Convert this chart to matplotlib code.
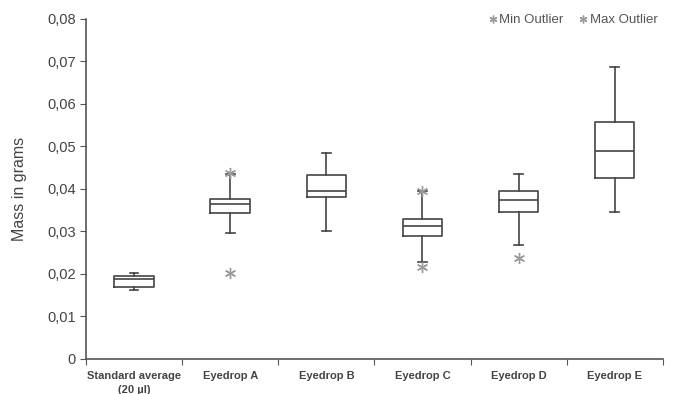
import numpy as np
import matplotlib.pyplot as plt
from matplotlib.ticker import FuncFormatter

plt.rcParams['font.family'] = ['Liberation Sans', 'DejaVu Sans']

# box plot statistics
categories = ['Standard average\n(20 \u00b5l)', 'Eyedrop A', 'Eyedrop B',
              'Eyedrop C', 'Eyedrop D', 'Eyedrop E']
whislo = [0.0162, 0.0296, 0.0300, 0.0229, 0.0268, 0.0346]
q1 = [0.0169, 0.0344, 0.0380, 0.0290, 0.0345, 0.0426]
med = [0.0188, 0.0364, 0.0396, 0.0312, 0.0374, 0.0489]
q3 = [0.0196, 0.0376, 0.0433, 0.0329, 0.0395, 0.0557]
whishi = [0.0202, 0.0435, 0.0484, 0.0396, 0.0435, 0.0686]

# outliers (category index, value)
min_out_idx = [1, 3, 4]
min_out_val = [0.0202, 0.0217, 0.0237]
max_out_idx = [1, 3]
max_out_val = [0.0437, 0.0396]

edge = '#444444'
grey_mark = '#9a9a9a'

fig = plt.figure(figsize=(6.77, 3.94), dpi=100)
ax = fig.add_axes([0.127, 0.089, 0.852, 0.863])

pos = np.arange(len(categories)) + 0.5
stats = []
for i in range(len(categories)):
    stats.append(dict(whislo=whislo[i], q1=q1[i], med=med[i], q3=q3[i],
                      whishi=whishi[i], fliers=[]))

ax.bxp(stats, positions=pos, widths=0.41, capwidths=0.09, showfliers=False,
       boxprops=dict(color=edge, linewidth=1.2),
       medianprops=dict(color=edge, linewidth=1.2),
       whiskerprops=dict(color=edge, linewidth=1.2),
       capprops=dict(color=edge, linewidth=1.2))

star = (6, 2, 0)
ax.plot(pos[min_out_idx], min_out_val, linestyle='none', marker=star,
        markersize=8, markeredgecolor=grey_mark, markeredgewidth=1.0,
        label='Min Outlier')
ax.plot(pos[max_out_idx], max_out_val, linestyle='none', marker=star,
        markersize=8, markeredgecolor=grey_mark, markeredgewidth=1.0,
        label='Max Outlier')

ax.set_xlim(0, len(categories))
ax.set_ylim(0, 0.08)
ax.set_yticks(np.arange(0, 0.081, 0.01))
ax.yaxis.set_major_formatter(FuncFormatter(
    lambda v, p: '0' if abs(v) < 1e-9 else f'{v:.2f}'.replace('.', ',')))

ax.set_xticks(np.arange(0, len(categories) + 1))
ax.set_xticklabels([])
ax.set_xticks(pos, minor=True)
ax.set_xticklabels(categories, minor=True, fontsize=8, fontweight='bold',
                   color='#444444', linespacing=1.5)
ax.tick_params(axis='x', which='minor', length=0, pad=9)
ax.tick_params(axis='x', which='major', length=4, color='#555555',
               direction='out')
ax.tick_params(axis='y', length=4, color='#555555', labelsize=10.5,
               labelcolor='#444444')

for s in ['top', 'right']:
    ax.spines[s].set_visible(False)
for s in ['left', 'bottom']:
    ax.spines[s].set_color('#555555')
    ax.spines[s].set_linewidth(1.2)

ax.set_ylabel('Mass in grams', fontsize=11.5, color='#444444', labelpad=14)

leg = ax.legend(loc='upper right', ncol=2, frameon=False, fontsize=9.5,
                handletextpad=0.0, columnspacing=1.0, handlelength=1.0,
                borderaxespad=0.0, bbox_to_anchor=(1.0, 1.03), markerscale=0.7)
for t in leg.get_texts():
    t.set_color('#555555')

fig.savefig('out.png', dpi=100)
